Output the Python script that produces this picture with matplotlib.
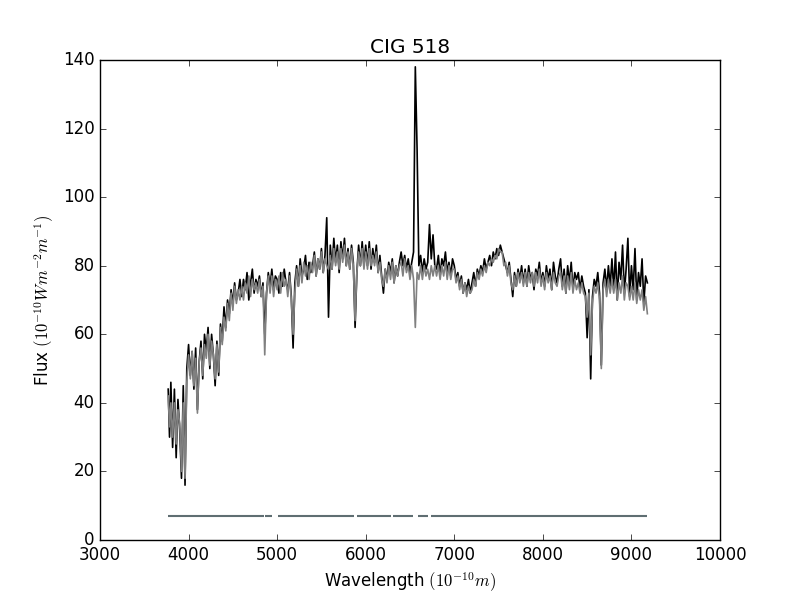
"""
Espectre observat i model de CIG 518 (estil matplotlib classic).
"""

import numpy as np
import matplotlib
matplotlib.use('Agg')
import matplotlib.pyplot as plt

plt.style.use('classic')

# Longituds d'ona (Angstrom)
wave = [3770, 3785,
        3800, 3820, 3840, 3860, 3880, 3900, 3920, 3940, 3960, 3980,
        4000, 4020, 4040, 4060, 4080, 4100, 4120, 4140, 4160, 4180,
        4200, 4220, 4240, 4260, 4280, 4300, 4320, 4340, 4360, 4380,
        4400, 4420, 4440, 4460, 4480, 4500, 4520, 4540, 4560, 4580,
        4600, 4620, 4640, 4660, 4680, 4700, 4720, 4740, 4760, 4780,
        4800, 4820, 4840, 4860, 4880, 4900, 4920, 4940, 4960, 4980,
        5000, 5020, 5040, 5060, 5080, 5100, 5120, 5140, 5160, 5180,
        5200, 5220, 5240, 5260, 5280, 5300, 5320, 5340, 5360, 5380,
        5400, 5420, 5440, 5460, 5480, 5500, 5520, 5540, 5560, 5580,
        5600, 5620, 5640, 5660, 5680, 5700, 5720, 5740, 5760, 5780,
        5800, 5820, 5840, 5860, 5880, 5900, 5920, 5940, 5960, 5980,
        6000, 6020, 6040, 6060, 6080, 6100, 6120, 6140, 6160, 6180,
        6200, 6220, 6240, 6260, 6280, 6300, 6320, 6340, 6360, 6380,
        6400, 6420, 6440, 6460, 6480, 6500, 6520, 6540, 6560, 6580,
        6600, 6620, 6640, 6660, 6680, 6700, 6720, 6740, 6760, 6780,
        6800, 6820, 6840, 6860, 6880, 6900, 6920, 6940, 6960, 6980,
        7000, 7020, 7040, 7060, 7080, 7100, 7120, 7140, 7160, 7180,
        7200, 7220, 7240, 7260, 7280, 7300, 7320, 7340, 7360, 7380,
        7400, 7420, 7440, 7460, 7480, 7500, 7520, 7540, 7560, 7580,
        7600, 7620, 7640, 7660, 7680, 7700, 7720, 7740, 7760, 7780,
        7800, 7820, 7840, 7860, 7880, 7900, 7920, 7940, 7960, 7980,
        8000, 8020, 8040, 8060, 8080, 8100, 8120, 8140, 8160, 8180,
        8200, 8220, 8240, 8260, 8280, 8300, 8320, 8340, 8360, 8380,
        8400, 8420, 8440, 8460, 8480, 8500, 8520, 8540, 8560, 8580,
        8600, 8620, 8640, 8660, 8680, 8700, 8720, 8740, 8760, 8780,
        8800, 8820, 8840, 8860, 8880, 8900, 8920, 8940, 8960, 8980,
        9000, 9020, 9040, 9060, 9080, 9100, 9120, 9140, 9160, 9180]

# Flux observat (negre)
flux_obs = [44, 30,
            46, 27, 44, 24, 41, 32, 18, 45, 16, 50,
            57, 48, 55, 44, 56, 38, 52, 58, 47, 60,
            55, 62, 50, 60, 54, 45, 58, 48, 63, 58,
            68, 62, 70, 66, 73, 69, 75, 70, 72, 76,
            71, 76, 73, 78, 70, 75, 79, 72, 76, 74,
            77, 71, 75, 60, 72, 78, 74, 79, 73, 77,
            76, 72, 78, 74, 79, 75, 73, 78, 71, 56,
            75, 80, 74, 82, 77, 79, 83, 76, 81, 78,
            80, 84, 77, 82, 79, 85, 78, 83, 94, 65,
            86, 79, 88, 81, 86, 78, 87, 82, 88, 80,
            85, 79, 86, 81, 62, 78, 86, 80, 87, 80,
            86, 80, 87, 79, 85, 81, 86, 78, 83, 77,
            72, 79, 76, 81, 78, 82, 75, 80, 77, 81,
            84, 80, 83, 79, 82, 78, 81, 84, 138, 114,
            80, 83, 78, 82, 79, 81, 92, 82, 89, 80,
            79, 83, 77, 82, 80, 84, 78, 81, 77, 82,
            80, 76, 78, 74, 77, 72, 75, 73, 76, 72,
            75, 78, 74, 79, 77, 80, 78, 82, 79, 81,
            83, 80, 84, 82, 85, 83, 86, 84, 82, 80,
            78, 81, 76, 71, 78, 74, 79, 76, 80, 75,
            79, 74, 80, 76, 78, 73, 79, 77, 81, 75,
            78, 74, 80, 76, 79, 73, 81, 77, 75, 79,
            82, 74, 79, 72, 80, 75, 81, 73, 78, 76,
            78, 73, 77, 74, 72, 59, 73, 47, 71, 76,
            74, 78, 72, 51, 75, 79, 73, 80, 74, 82,
            73, 84, 70, 81, 76, 86, 72, 79, 88, 71,
            80, 73, 85, 70, 78, 74, 82, 69, 77, 75]

# Flux del model (gris)
flux_mod = [42, 33,
            40, 30, 40, 28, 38, 34, 20, 40, 18, 46,
            54, 47, 55, 45, 53, 37, 52, 56, 48, 57,
            53, 60, 51, 58, 54, 47, 57, 49, 62, 57,
            65, 61, 69, 64, 72, 67, 74, 69, 73, 70,
            74, 70, 75, 72, 77, 71, 76, 73, 75, 72,
            76, 71, 74, 54, 72, 77, 72, 77, 71, 76,
            73, 77, 72, 78, 74, 76, 71, 77, 70, 60,
            72, 79, 74, 80, 75, 81, 77, 80, 76, 81,
            78, 83, 77, 82, 79, 84, 78, 82, 80, 79,
            83, 79, 85, 80, 84, 79, 85, 81, 86, 80,
            84, 79, 85, 80, 64, 78, 84, 80, 85, 79,
            84, 79, 85, 80, 83, 80, 84, 78, 81, 76,
            74, 79, 75, 80, 76, 81, 75, 80, 77, 80,
            81, 77, 82, 78, 80, 76, 80, 76, 62, 78,
            76, 80, 76, 80, 77, 79, 76, 80, 77, 80,
            77, 80, 76, 80, 77, 81, 76, 80, 76, 79,
            79, 75, 77, 73, 76, 72, 75, 71, 74, 72,
            73, 76, 74, 78, 76, 79, 77, 80, 78, 81,
            80, 82, 81, 83, 82, 85, 84, 84, 80, 81,
            77, 80, 75, 73, 77, 74, 78, 75, 78, 74,
            78, 74, 78, 75, 78, 74, 78, 75, 79, 74,
            77, 73, 78, 75, 77, 73, 78, 75, 74, 77,
            78, 73, 77, 72, 77, 73, 78, 72, 76, 73,
            75, 72, 75, 72, 71, 65, 72, 54, 69, 74,
            72, 75, 70, 50, 73, 76, 71, 76, 72, 76,
            72, 76, 70, 75, 72, 77, 70, 75, 74, 70,
            74, 70, 75, 69, 73, 70, 73, 67, 71, 66]

# Trams de la màscara (Angstrom) i nivell
mask_start = [3768, 4863, 5010, 5902, 6308, 6590, 6737]
mask_end = [4852, 4942, 5868, 6285, 6534, 6703, 9176]
mask_level = 7

assert len(wave) == len(flux_obs) == len(flux_mod)

fig, ax = plt.subplots(figsize=(8, 6), dpi=100)

ax.plot(wave, flux_obs, color='black', linewidth=1.2)
ax.plot(wave, flux_mod, color='gray', linewidth=1.2)

for x0, x1 in zip(mask_start, mask_end):
    ax.plot([x0, x1], [mask_level, mask_level], color='#5f6e72',
            linewidth=1.5, solid_capstyle='butt')

ax.set_xlim(3000, 10000)
ax.set_ylim(0, 140)
ax.set_title('CIG 518')
ax.set_xlabel(r'Wavelength $(10^{-10}m)$')
ax.set_ylabel(r'Flux $(10^{-10}Wm^{-2}m^{-1})$')

plt.savefig('out.png', dpi=100)
plt.close()
